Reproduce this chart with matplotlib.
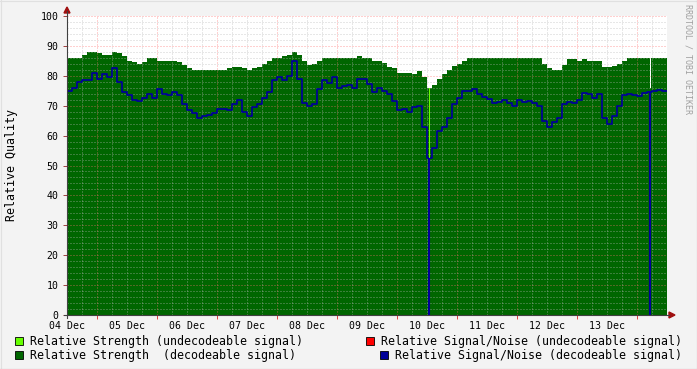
import numpy as np
import matplotlib
matplotlib.use('Agg')
import matplotlib.pyplot as plt
from matplotlib.patches import Rectangle, Polygon
from matplotlib.lines import Line2D

W, H, DPI = 697, 369, 100

# ---------------- data (2-hour samples starting 04 Dec 00:00) ----------------
hours = np.arange(0, 240, 2)

strength = [
    86, 86, 86, 87, 88, 88, 87.5, 87, 87, 88, 87.5, 86.5, 85, 84.5, 84, 84.5, 86, 86, 85, 85,
    85, 85, 84.5, 83.5, 82.5, 82, 82, 82, 82, 82, 82, 82, 82.5, 83, 83, 82.5, 82, 82.5, 83, 84,
    85, 86, 86, 86.5, 87, 88, 87, 85, 83.5, 84, 85, 86, 86, 86, 86, 86, 86, 86, 86.5, 86,
    86, 85, 85, 84.4, 83, 82.5, 81.1, 81.1, 81, 80.6, 81.5, 79.5, 76, 77, 79, 80.6, 82, 83.3, 84, 84.8,
    86, 86, 86, 85.8, 85.8, 85.8, 86, 86, 86, 86, 86, 86, 85.8, 85.8, 85.8, 84, 82.5, 82, 82, 83.5,
    85.5, 85.5, 85, 85.5, 85, 85, 84.8, 83, 83, 83.3, 84, 85, 86, 86, 86, 86, 86, 86, 86, 86,
]

snr = [
    75, 76, 78, 78.5, 78.5, 81, 79, 80.5, 79.5, 82.5, 78, 74.5, 73.5, 72, 71.5, 72.5, 74, 72.5, 75.5, 74,
    73.5, 74.5, 73.5, 70.5, 68.5, 67.5, 66, 66.5, 67, 67.5, 69, 69, 68.5, 70.5, 72, 68, 66.7, 69.5, 70.6, 72.5,
    74.5, 78.6, 79.5, 78.5, 80, 84.8, 79, 71, 69.8, 70.5, 75.5, 78.5, 77.5, 79.5, 76, 76.5, 77, 76, 79, 79,
    77.2, 74.5, 76, 75, 74, 71.5, 68.5, 69, 68, 69.5, 70, 63, 52.5, 56, 61.5, 63, 66, 70.6, 72.5, 75,
    75, 75.5, 74, 73, 72.2, 71, 71.1, 72, 71, 70, 72, 71.1, 71.7, 71, 70, 65, 63, 64.5, 66, 70.5,
    71.4, 71, 72, 74.2, 74, 72.5, 73.8, 66, 64, 66.5, 70, 73.5, 74, 73.6, 73.3, 74.2, 74.5, 74.8, 75.2, 75,
]

day_labels = ['04 Dec', '05 Dec', '06 Dec', '07 Dec', '08 Dec',
              '09 Dec', '10 Dec', '11 Dec', '12 Dec', '13 Dec']
y_ticks = [0, 10, 20, 30, 40, 50, 60, 70, 80, 90, 100]

undecodeable_hours = [145.0]
undecodeable_strength = [76]
snr_drop_hours = [144.75, 233.3]
snr_drop_tops = [52.5, 75]
strength_gap_hours = [233.3]
strength_gap_floor = [76]
strength_gap_top = [86]

legend_labels = ['Relative Strength (undecodeable signal)',
                 'Relative Signal/Noise (undecodeable signal)',
                 'Relative Strength  (decodeable signal)',
                 'Relative Signal/Noise (decodeable signal)']

# ---------------- style ----------------
DARK_GREEN = '#006600'
LIGHT_GREEN = '#66ff00'
BLUE = '#000099'
RED = '#ff0000'
BG = '#f3f3f3'
MONO = 'DejaVu Sans Mono'
plt.rcParams['font.family'] = [MONO]


def fx(x):
    return x / W


def fy(y):
    return 1 - y / H


fig = plt.figure(figsize=(W / DPI, H / DPI), dpi=DPI, facecolor=BG)
ax = fig.add_axes([fx(67), fy(315), 600 / W, 299 / H])
ax.set_xlim(0, 240)
ax.set_ylim(0, 100)
ax.set_facecolor('white')
for s in ax.spines.values():
    s.set_visible(False)

# strength area
t_edges = np.append(hours, 240)
ax.fill_between(t_edges, 0, np.append(strength, strength[-1]), step='post',
                color=DARK_GREEN, lw=0, zorder=1)
ax.bar(strength_gap_hours, np.subtract(strength_gap_top, strength_gap_floor),
       bottom=strength_gap_floor, width=0.5, color='white', lw=0, zorder=1.2)

# grid
dots = (0, (1, 2))
for v in range(2, 100, 2):
    if v % 10:
        ax.axhline(v, color='#b8b8b8', lw=0.72, ls=dots, alpha=0.65, zorder=2)
for v in range(10, 101, 10):
    ax.axhline(v, color='#ff7070', lw=0.72, ls=dots, alpha=0.65, zorder=2)
for h in range(6, 240, 6):
    if h % 24 != 12:
        ax.axvline(h, color='#b8b8b8', lw=0.72, ls=dots, alpha=0.65, zorder=2)
for h in range(12, 240, 24):
    ax.axvline(h, color='#ff7070', lw=0.72, ls=dots, alpha=0.65, zorder=2)

# SNR line
ax.step(t_edges, np.append(snr, snr[-1]), where='post', color=BLUE, lw=1.25, zorder=3)

# undecodeable strength
ax.bar(undecodeable_hours, undecodeable_strength, width=0.5, color=LIGHT_GREEN,
       lw=0, zorder=3.5)

# SNR dropouts
ax.vlines(snr_drop_hours, 0, snr_drop_tops, color=BLUE, lw=1.5, zorder=4)

# ticks
ax.set_xticks(np.arange(0, 240, 24))
ax.set_xticklabels(day_labels, fontsize=7.1, color='black')
ax.set_xticks(np.arange(12, 240, 24), minor=True)
ax.tick_params(axis='x', which='major', length=0, pad=4)
ax.tick_params(axis='x', which='minor', length=3, color='#e04040', direction='out', width=0.7)
ax.set_yticks(y_ticks)
ax.set_yticklabels([str(v) for v in y_ticks], fontsize=7.1)
ax.tick_params(axis='y', which='major', length=3, color='#a04040', direction='out', width=0.7, pad=3)

# axes lines with arrows
fig.add_artist(Line2D([fx(67), fx(67)], [fy(318), fy(11)], color='#404040', lw=0.8))
fig.add_artist(Line2D([fx(64), fx(669)], [fy(315), fy(315)], color='#404040', lw=0.8))
fig.add_artist(Polygon([[fx(64), fy(13)], [fx(70), fy(13)], [fx(67), fy(7)]],
                       closed=True, color='#a01010'))
fig.add_artist(Polygon([[fx(669), fy(312)], [fx(669), fy(318)], [fx(675), fy(315)]],
                       closed=True, color='#a01010'))

# y label and watermark
fig.text(fx(12), fy(165), 'Relative Quality', rotation=90, ha='center', va='center',
         fontsize=8.4, color='black')
fig.text(fx(688), fy(4), 'RRDTOOL / TOBI OETIKER', rotation=270, ha='center', va='top',
         fontsize=6, color='#a0a0a0')

# legend
legend_colors = [LIGHT_GREEN, RED, DARK_GREEN, BLUE]
legend_pos = [(15, 341), (366, 341), (15, 355), (380, 355)]
for lab, col, (lx, ly) in zip(legend_labels, legend_colors, legend_pos):
    fig.add_artist(Rectangle((fx(lx), fy(ly + 4)), 8 / W, 8 / H, facecolor=col,
                             edgecolor='black', lw=0.6))
    fig.text(fx(lx + 15), fy(ly), lab, ha='left', va='center', fontsize=8.36, color='black')

# frame
fig.add_artist(Line2D([0, 1], [fy(0.5), fy(0.5)], color='#e0e0e0', lw=0.8))
fig.add_artist(Line2D([fx(0.5), fx(0.5)], [0, 1], color='#e0e0e0', lw=0.8))
fig.add_artist(Line2D([0, 1], [fy(368.5), fy(368.5)], color='#a0a0a0', lw=0.8))
fig.add_artist(Line2D([fx(696.5), fx(696.5)], [0, 1], color='#a0a0a0', lw=0.8))

fig.savefig('out.png', dpi=DPI, facecolor=BG)
